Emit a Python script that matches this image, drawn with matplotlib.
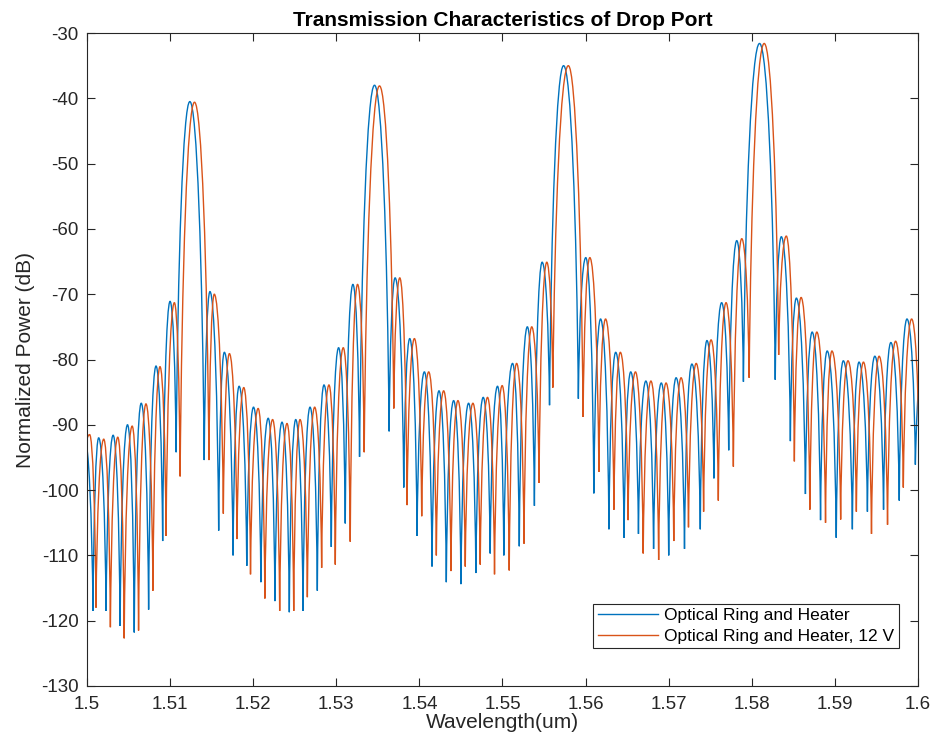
import matplotlib
matplotlib.use("Agg")
import matplotlib.pyplot as plt
from matplotlib.path import Path
from matplotlib.patches import PathPatch
from matplotlib.lines import Line2D

plt.rcParams['font.family'] = ['Liberation Sans', 'DejaVu Sans']
plt.rcParams['axes.unicode_minus'] = False

# turning points (peak / null, alternating)
# trace 1: optical ring and heater
ring_wl = [
    1.4997, 1.50073, 1.50141, 1.50230, 1.50315, 1.50399, 1.50488, 1.50569, 1.50653, 1.50742,
    1.50831, 1.50911, 1.51000, 1.51073, 1.51238, 1.51411, 1.51480, 1.51585, 1.51653, 1.51758,
    1.51831, 1.51923, 1.52004, 1.52093, 1.52181, 1.52262, 1.52347, 1.52435, 1.52512, 1.52600,
    1.52684, 1.52772, 1.52852, 1.52940, 1.53028, 1.53108, 1.53200, 1.53280, 1.53460, 1.53636,
    1.53708, 1.53812, 1.53884, 1.53972, 1.54060, 1.54152, 1.54236, 1.54324, 1.54412, 1.54500,
    1.54592, 1.54680, 1.54768, 1.54852, 1.54940, 1.55016, 1.55121, 1.55202, 1.55299, 1.55384,
    1.55477, 1.55566, 1.55735, 1.55913, 1.56002, 1.56099, 1.56180, 1.56281, 1.56362, 1.56463,
    1.56543, 1.56636, 1.56725, 1.56818, 1.56911, 1.57000, 1.57089, 1.57190, 1.57279, 1.57380,
    1.57460, 1.57544, 1.57637, 1.57722, 1.57819, 1.57899, 1.58093, 1.58282, 1.58355, 1.58464,
    1.58536, 1.58645, 1.58726, 1.58827, 1.58907, 1.59016, 1.59101, 1.59210, 1.59290, 1.59391,
    1.59480, 1.59585, 1.59673, 1.59774, 1.59867, 1.59968, 1.60150]
ring_db = [
    -92.0, -118.5, -92.0, -118.5, -91.6, -120.8, -90.0, -121.8, -86.7, -118.3,
    -81.0, -107.8, -71.1, -94.2, -40.5, -95.4, -69.6, -106.2, -78.9, -110.0,
    -84.1, -111.6, -87.3, -114.1, -89.0, -117.0, -89.6, -118.7, -89.2, -118.5,
    -87.3, -115.4, -83.9, -108.7, -78.2, -105.1, -68.5, -94.9, -38.0, -91.0,
    -67.5, -99.6, -76.8, -107.0, -81.9, -111.7, -84.8, -114.1, -86.3, -114.4,
    -86.7, -112.7, -85.8, -109.7, -84.1, -110.0, -80.6, -108.6, -75.0, -102.4,
    -65.1, -87.0, -35.0, -86.0, -64.4, -100.5, -73.8, -106.0, -78.9, -107.3,
    -81.9, -106.7, -83.3, -109.0, -83.6, -110.0, -82.8, -109.0, -80.7, -106.0,
    -77.1, -98.2, -71.3, -93.9, -61.8, -83.4, -31.6, -83.1, -61.2, -92.5,
    -70.6, -100.6, -75.8, -104.6, -78.7, -107.3, -80.2, -106.0, -80.4, -103.3,
    -79.5, -103.0, -77.4, -101.6, -73.8, -96.1, -72.0]

# trace 2: optical ring and heater, 12 V
heat_wl = [
    1.49868, 1.50032, 1.50109, 1.50202, 1.50282, 1.50371, 1.50448, 1.50544, 1.50621, 1.50710,
    1.50794, 1.50879, 1.50952, 1.51052, 1.51121, 1.51294, 1.51468, 1.51532, 1.51641, 1.51714,
    1.51806, 1.51887, 1.51968, 1.52060, 1.52141, 1.52234, 1.52319, 1.52407, 1.52488, 1.52564,
    1.52652, 1.52740, 1.52824, 1.52912, 1.52988, 1.53084, 1.53168, 1.53256, 1.53336, 1.53520,
    1.53692, 1.53764, 1.53852, 1.53940, 1.54028, 1.54112, 1.54204, 1.54292, 1.54380, 1.54464,
    1.54552, 1.54644, 1.54732, 1.54820, 1.54904, 1.54996, 1.55081, 1.55170, 1.55259, 1.55352,
    1.55440, 1.55533, 1.55606, 1.55792, 1.55970, 1.56051, 1.56160, 1.56240, 1.56341, 1.56418,
    1.56511, 1.56600, 1.56693, 1.56786, 1.56879, 1.56968, 1.57061, 1.57149, 1.57238, 1.57331,
    1.57420, 1.57510, 1.57597, 1.57690, 1.57778, 1.57879, 1.57968, 1.58149, 1.58323, 1.58415,
    1.58512, 1.58593, 1.58698, 1.58782, 1.58887, 1.58964, 1.59069, 1.59157, 1.59258, 1.59343,
    1.59440, 1.59532, 1.59633, 1.59730, 1.59823, 1.59923, 1.60012, 1.60100]
heat_db = [
    -118.0, -91.5, -118.0, -92.2, -121.0, -91.9, -122.7, -90.2, -121.5, -86.8,
    -115.4, -81.1, -107.0, -71.3, -97.9, -40.6, -95.4, -70.0, -103.6, -79.1,
    -107.5, -84.3, -112.9, -87.5, -116.6, -89.2, -118.5, -89.8, -118.5, -89.2,
    -116.4, -87.3, -111.9, -83.9, -111.4, -78.2, -107.9, -68.5, -94.2, -38.1,
    -87.5, -67.5, -102.3, -76.8, -104.0, -81.9, -110.0, -84.8, -112.4, -86.3,
    -111.7, -86.7, -111.4, -85.8, -112.9, -84.0, -112.3, -80.6, -108.2, -75.0,
    -98.9, -65.1, -84.3, -35.0, -88.8, -64.4, -97.2, -73.8, -103.0, -78.9,
    -104.6, -81.9, -109.7, -83.3, -110.7, -83.6, -107.8, -82.8, -105.7, -80.6,
    -103.3, -77.0, -101.6, -71.3, -96.4, -61.5, -82.8, -31.6, -79.3, -61.1,
    -95.6, -70.5, -103.0, -75.8, -105.0, -78.7, -104.5, -80.2, -103.3, -80.4,
    -106.7, -79.5, -105.3, -77.2, -99.6, -73.8, -93.5, -72.0]

series_names = ["Optical Ring and Heater", "Optical Ring and Heater, 12 V"]
x_ticks = [1.5, 1.51, 1.52, 1.53, 1.54, 1.55, 1.56, 1.57, 1.58, 1.59, 1.6]
x_tick_labels = ["1.5", "1.51", "1.52", "1.53", "1.54", "1.55", "1.56", "1.57", "1.58", "1.59", "1.6"]
y_ticks = [-130, -120, -110, -100, -90, -80, -70, -60, -50, -40, -30]

colors = ["#0072BD", "#D95319"]
axcol = "#262626"


# smooth arches between turning points: steep at the nulls, round on top
def lobe_path(wl, db):
    verts = [(wl[0], db[0])]
    codes = [Path.MOVETO]
    for i in range(len(wl) - 1):
        x0, y0, x1, y1 = wl[i], db[i], wl[i + 1], db[i + 1]
        dx, dy = x1 - x0, y1 - y0
        if dy > 0:
            c1 = (x0 + 0.12 * dx, y0 + 0.55 * dy)
            c2 = (x1 - 0.48 * dx, y1)
        else:
            c1 = (x0 + 0.48 * dx, y0)
            c2 = (x1 - 0.12 * dx, y1 - 0.55 * dy)
        verts += [c1, c2, (x1, y1)]
        codes += [Path.CURVE4] * 3
    return Path(verts, codes)


fig = plt.figure(figsize=(9.34, 7.37), dpi=100)
ax = fig.add_axes([0.0931, 0.0692, 0.8898, 0.886])

for wl, db, c in [(ring_wl, ring_db, colors[0]), (heat_wl, heat_db, colors[1])]:
    ax.add_patch(PathPatch(lobe_path(wl, db), facecolor="none", edgecolor=c, lw=1.0))

ax.set_xlim(1.5, 1.6)
ax.set_ylim(-130, -30)
ax.set_xticks(x_ticks)
ax.set_xticklabels(x_tick_labels)
ax.set_yticks(y_ticks)
ax.tick_params(direction="in", length=6, width=0.8, colors=axcol, labelsize=13.5,
               top=True, right=True)
ax.tick_params(axis="x", pad=7)
ax.tick_params(axis="y", pad=6)
for s in ax.spines.values():
    s.set_color(axcol)
    s.set_linewidth(0.8)

ax.set_xlabel("Wavelength(um)", fontsize=15, color=axcol, labelpad=0)
ax.set_ylabel("Normalized Power (dB)", fontsize=15, color=axcol, labelpad=4)
ax.set_title("Transmission Characteristics of Drop Port", fontsize=15,
             fontweight="bold", pad=5)

handles = [Line2D([], [], color=c, lw=1.0) for c in colors]
leg = ax.legend(handles, series_names, loc="lower right", bbox_to_anchor=(0.977, 0.058),
                borderaxespad=0, fontsize=12.5, fancybox=False, framealpha=1,
                edgecolor=axcol, handlelength=3.5, handletextpad=0.35,
                labelspacing=0.3, borderpad=0.25)
leg.get_frame().set_linewidth(0.8)

fig.savefig("out.png", dpi=100)
